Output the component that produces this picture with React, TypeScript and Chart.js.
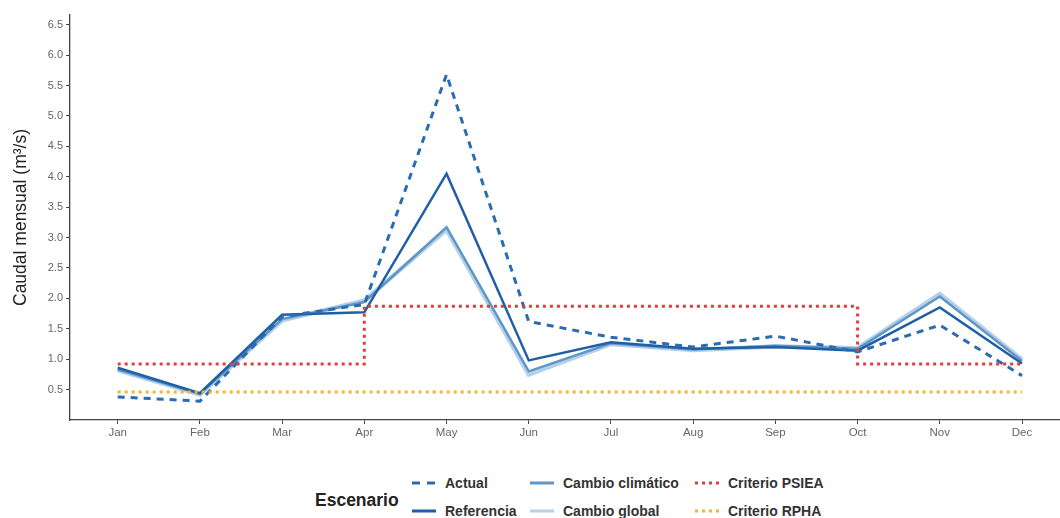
import { useEffect, useRef } from 'react';
import { Chart, registerables } from 'chart.js';

Chart.register(...registerables);

const months = ['Jan', 'Feb', 'Mar', 'Apr', 'May', 'Jun', 'Jul', 'Aug', 'Sep', 'Oct', 'Nov', 'Dec'];
const yTicks = [0.5, 1.0, 1.5, 2.0, 2.5, 3.0, 3.5, 4.0, 4.5, 5.0, 5.5, 6.0, 6.5];

const actual = [0.38, 0.31, 1.7, 1.9, 5.68, 1.62, 1.36, 1.2, 1.38, 1.12, 1.56, 0.73];
const referencia = [0.86, 0.44, 1.73, 1.77, 4.05, 0.98, 1.28, 1.17, 1.2, 1.14, 1.85, 0.93];
const cambioClimatico = [0.83, 0.43, 1.66, 1.94, 3.17, 0.8, 1.26, 1.16, 1.22, 1.17, 2.03, 0.97];
const cambioGlobal = [0.82, 0.42, 1.64, 1.96, 3.13, 0.75, 1.25, 1.15, 1.21, 1.18, 2.07, 0.99];
const criterioPSIEA = [0.92, 0.92, 0.92, 0.92, 1.87, 1.87, 1.87, 1.87, 1.87, 1.87, 0.92, 0.92];
const criterioRPHA = [0.46, 0.46, 0.46, 0.46, 0.46, 0.46, 0.46, 0.46, 0.46, 0.46, 0.46, 0.46];

const C_ACTUAL = '#2a6cb1';
const C_REF = '#1f5fa6';
const C_CLIM = '#5f96c8';
const C_GLOBAL = '#b4d0ea';
const C_PSIEA = '#e63b3b';
const C_RPHA = '#f2b632';

const toXY = (arr: number[]) => arr.map((y, i) => ({ x: i, y }));

const FONT = '"Liberation Sans", Arial, Helvetica, sans-serif';

function LegendItem({ x, y, label, kind, color }: { x: number; y: number; label: string; kind: 'dash' | 'solid' | 'dot'; color: string }) {
  const dash = kind === 'dash' ? '8 7' : kind === 'dot' ? '3 4' : undefined;
  return (
    <>
      <svg style={{ position: 'absolute', left: x, top: y - 5, width: 24, height: 10 }} width={24} height={10}>
        <line x1={0} y1={5} x2={24} y2={5} stroke={color} strokeWidth={3} strokeDasharray={dash} />
      </svg>
      <div style={{ position: 'absolute', left: x + 33, top: y - 9, height: 18, lineHeight: '18px', fontSize: 14, fontWeight: 'bold', color: '#333', whiteSpace: 'nowrap' }}>{label}</div>
    </>
  );
}

export default function App() {
  const ref = useRef<HTMLCanvasElement>(null);
  useEffect(() => {
    const chart = new Chart(ref.current!, {
      type: 'line',
      data: {
        datasets: [
          { label: 'Criterio RPHA', data: toXY(criterioRPHA), borderColor: C_RPHA, borderWidth: 3, borderDash: [3, 4], pointRadius: 0, order: 1 },
          { label: 'Criterio PSIEA', data: toXY(criterioPSIEA), borderColor: C_PSIEA, borderWidth: 3, borderDash: [3, 4], pointRadius: 0, stepped: 'after', order: 2 },
          { label: 'Actual', data: toXY(actual), borderColor: C_ACTUAL, borderWidth: 3, borderDash: [7, 6], pointRadius: 0, order: 3 },
          { label: 'Referencia', data: toXY(referencia), borderColor: C_REF, borderWidth: 2.5, pointRadius: 0, order: 4 },
          { label: 'Cambio climático', data: toXY(cambioClimatico), borderColor: C_CLIM, borderWidth: 2.5, pointRadius: 0, order: 5 },
          { label: 'Cambio global', data: toXY(cambioGlobal), borderColor: C_GLOBAL, borderWidth: 4.5, pointRadius: 0, order: 6 },
        ],
      },
      options: {
        animation: false,
        responsive: true,
        maintainAspectRatio: false,
        layout: { padding: { top: 15, right: 1, left: 0, bottom: 0 } },
        plugins: { legend: { display: false }, tooltip: { enabled: false } },
        scales: {
          x: {
            type: 'linear',
            min: -0.58,
            max: 11.45,
            afterBuildTicks: (s: any) => {
              s.ticks = months.map((_, i) => ({ value: i }));
            },
            afterFit: (s: any) => {
              s.height = 40;
            },
            ticks: {
              autoSkip: false,
              maxRotation: 0,
              padding: 2,
              color: '#666',
              font: { family: FONT, size: 11.5 },
              callback: (v: any) => months[v as number] ?? '',
            },
            grid: { display: true, drawOnChartArea: false, drawTicks: true, tickLength: 4, color: '#444', lineWidth: 1 },
            border: { display: true, color: '#444', width: 1.3 },
          },
          y: {
            min: 0,
            max: 6.66,
            afterBuildTicks: (s: any) => {
              s.ticks = yTicks.map((v) => ({ value: v }));
            },
            afterFit: (s: any) => {
              s.width = 70;
            },
            ticks: {
              padding: 3,
              color: '#666',
              font: { family: FONT, size: 11 },
              callback: (v: any) => Number(v).toFixed(1),
            },
            title: {
              display: true,
              text: 'Caudal mensual (m³/s)',
              color: '#222',
              font: { family: FONT, size: 17.5 },
              padding: { top: 11, bottom: 0 },
            },
            grid: { display: true, drawOnChartArea: false, drawTicks: true, tickLength: 4, color: '#444', lineWidth: 1 },
            border: { display: true, color: '#444', width: 1.3 },
          },
        },
      },
    } as any);
    return () => chart.destroy();
  }, []);

  return (
    <div style={{ position: 'fixed', left: 0, top: 0, width: 1060, height: 518, background: '#fff', overflow: 'hidden', fontFamily: FONT }}>
      <div style={{ position: 'absolute', left: 0, top: 0, width: 1060, height: 460 }}>
        <canvas ref={ref} />
      </div>
      <div style={{ position: 'absolute', left: 315, top: 488, height: 24, lineHeight: '24px', fontSize: 17.5, fontWeight: 'bold', color: '#222' }}>Escenario</div>
      <LegendItem x={412} y={483} label="Actual" kind="dash" color={C_ACTUAL} />
      <LegendItem x={412} y={511} label="Referencia" kind="solid" color={C_REF} />
      <LegendItem x={530} y={483} label="Cambio climático" kind="solid" color={C_CLIM} />
      <LegendItem x={530} y={511} label="Cambio global" kind="solid" color={C_GLOBAL} />
      <LegendItem x={695} y={483} label="Criterio PSIEA" kind="dot" color={C_PSIEA} />
      <LegendItem x={695} y={511} label="Criterio RPHA" kind="dot" color={C_RPHA} />
    </div>
  );
}
